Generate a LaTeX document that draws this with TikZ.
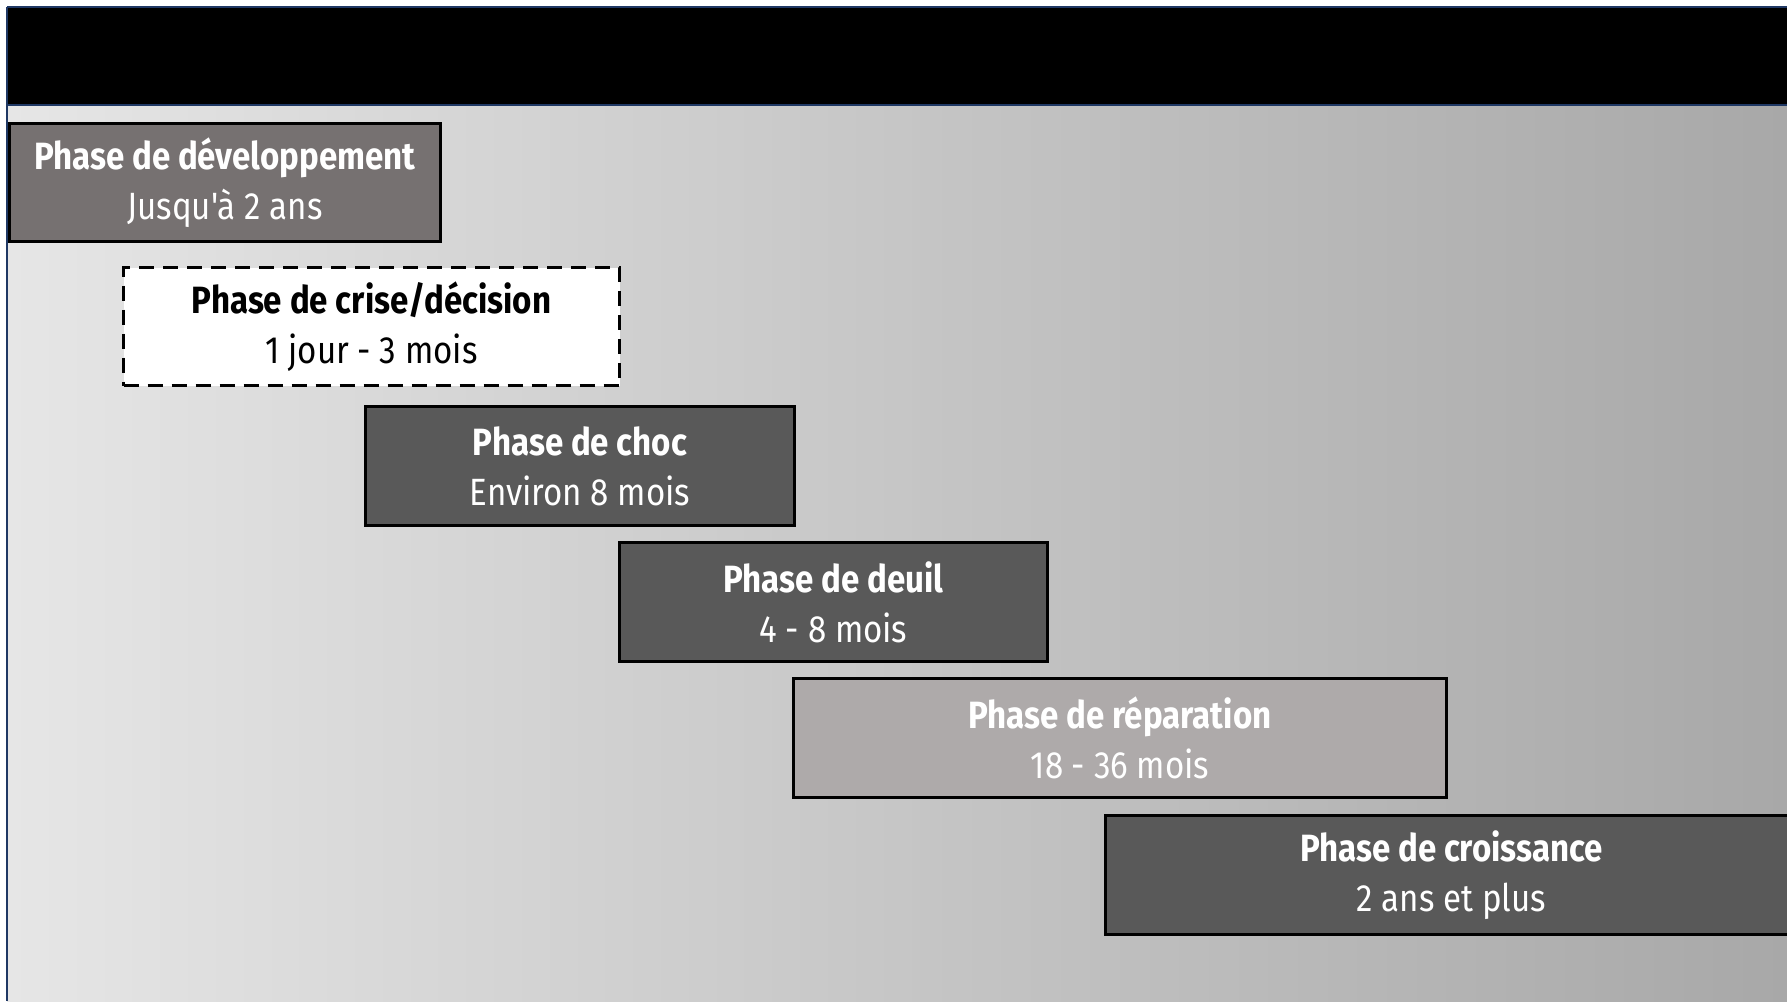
\documentclass[tikz,border=0pt]{standalone}
\usepackage{fontspec}
\setmainfont[FakeStretch=0.87, Ligatures=TeXOff]{Fira Sans}
\definecolor{bandblue}{HTML}{1F3864}
\definecolor{darkbox}{HTML}{595959}
\definecolor{midbox}{HTML}{767171}
\definecolor{lightbox}{HTML}{AEAAAA}
\definecolor{bgleft}{HTML}{E6E6E6}
\definecolor{bgmid}{HTML}{C6C6C6}
\definecolor{bgright}{HTML}{A8A8A8}
\tikzset{
  phasebox/.style={draw=black, line width=3pt, fill=darkbox, text=white,
    align=center, anchor=north west, inner sep=0pt, font=\fontsize{38}{50}\selectfont},
  dashbox/.style={phasebox, fill=white, text=black, dash pattern=on 15pt off 9pt},
}
\newcommand{\phtext}[2]{\textbf{#1}\\#2}
\begin{document}
\begin{tikzpicture}[x=1pt,y=-1pt]
\clip (0,0) rectangle (1787,1001);
\fill[white] (0,0) rectangle (1787,1001);
% background gradient
\shade[left color=bgleft, right color=bgright, middle color=bgmid] (7,7) rectangle (1787,1001);
% top band
\fill[black] (7,7) rectangle (1787,105);
\draw[bandblue, line width=2pt] (7,7) -- (1787,7);
\draw[bandblue, line width=2pt] (7,105) -- (1787,105);
\draw[bandblue, line width=2pt] (7,7) -- (7,1001);
% boxes
\node[phasebox, fill=midbox, minimum width=431pt, minimum height=118pt] (dev) at (8,122)
  {\phtext{Phase de développement}{Jusqu'à 2 ans}};
\node[dashbox, minimum width=496pt, minimum height=118pt] (crise) at (122,266)
  {\phtext{Phase de crise/décision}{1 jour - 3 mois}};
\node[phasebox, minimum width=429pt, minimum height=119pt] (choc) at (364,405)
  {\phtext{Phase de choc}{Environ 8 mois}};
\node[phasebox, minimum width=428pt, minimum height=119pt] (deuil) at (618,541)
  {\phtext{Phase de deuil}{4 - 8 mois}};
\node[phasebox, fill=lightbox, minimum width=653pt, minimum height=119pt] (rep) at (792,677)
  {\phtext{Phase de réparation}{18 - 36 mois}};
\node[phasebox, minimum width=692pt, minimum height=119pt] (crois) at (1104,814)
  {\phtext{Phase de croissance}{2 ans et plus}};
\end{tikzpicture}
\end{document}
